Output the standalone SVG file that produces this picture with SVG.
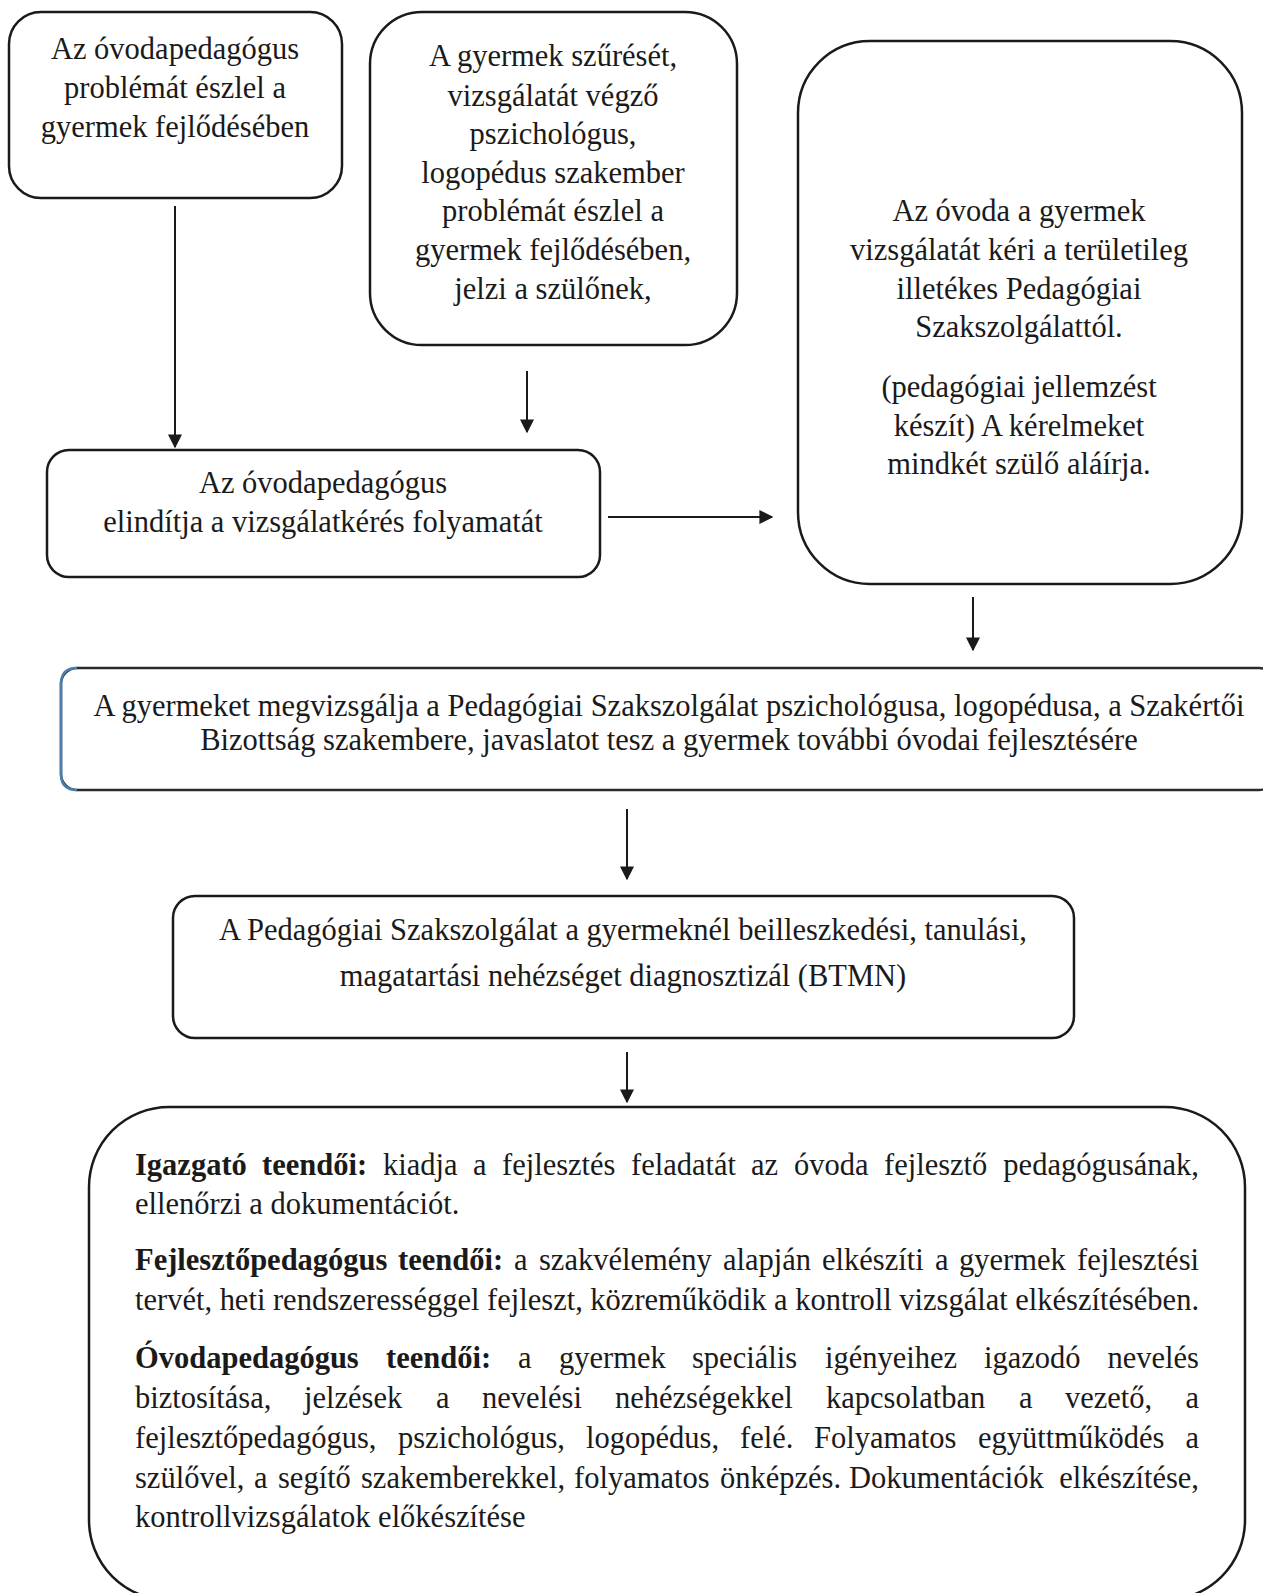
<svg xmlns="http://www.w3.org/2000/svg" width="1263" height="1593" viewBox="0 0 1263 1593">
<style>
.box{fill:#fff;stroke:#1a1a1a;stroke-width:2.5}
.t{font-family:"Liberation Serif","Times New Roman",serif;font-size:30.5px;fill:#1a1a1a}
.c{text-anchor:middle}
.b{font-weight:bold}
.e{text-anchor:end}
.conn line{stroke:#1a1a1a;stroke-width:2}
</style>
<defs>
<marker id="ah" viewBox="0 0 10 10" refX="9" refY="5" markerWidth="7" markerHeight="7" markerUnits="strokeWidth" orient="auto">
<path d="M0,0 L10,5 L0,10 z" fill="#1a1a1a"/>
</marker>
</defs>
<rect width="1263" height="1593" fill="#fff"/>

<g id="n1">
<rect class="box" x="9" y="12" width="333" height="186" rx="32"/>
<text class="t c" x="175" y="59">Az óvodapedagógus</text>
<text class="t c" x="175" y="98">problémát észlel a</text>
<text class="t c" x="175" y="137">gyermek fejlődésében</text>
</g>

<g id="n2">
<rect class="box" x="370" y="12" width="367" height="333" rx="52"/>
<text class="t c" x="553" y="66">A gyermek szűrését,</text>
<text class="t c" x="553" y="106">vizsgálatát végző</text>
<text class="t c" x="553" y="144">pszichológus,</text>
<text class="t c" x="553" y="183">logopédus szakember</text>
<text class="t c" x="553" y="221">problémát észlel a</text>
<text class="t c" x="553" y="260">gyermek fejlődésében,</text>
<text class="t c" x="553" y="299">jelzi a szülőnek,</text>
</g>

<g id="n3">
<rect class="box" x="798" y="41" width="444" height="543" rx="72"/>
<text class="t c" x="1019" y="221">Az óvoda a gyermek</text>
<text class="t c" x="1019" y="260">vizsgálatát kéri a területileg</text>
<text class="t c" x="1019" y="299">illetékes Pedagógiai</text>
<text class="t c" x="1019" y="337">Szakszolgálattól.</text>
<text class="t c" x="1019" y="397">(pedagógiai jellemzést</text>
<text class="t c" x="1019" y="436">készít) A kérelmeket</text>
<text class="t c" x="1019" y="474">mindkét szülő aláírja.</text>
</g>

<g id="n4">
<rect class="box" x="47" y="450" width="553" height="127" rx="22"/>
<text class="t c" x="323" y="493">Az óvodapedagógus</text>
<text class="t c" x="323" y="532">elindítja a vizsgálatkérés folyamatát</text>
</g>

<g id="n5">
<rect class="box" x="61" y="668" width="1214" height="122" rx="16" style="stroke:#2b2b2b"/>
<path d="M77,668 Q61,668 61,684 L61,774 Q61,790 77,790" fill="none" stroke="#4a7db0" stroke-width="2.5"/>
<text class="t c" x="669" y="716">A gyermeket megvizsgálja a Pedagógiai Szakszolgálat pszichológusa, logopédusa, a Szakértői</text>
<text class="t c" x="669" y="750">Bizottság szakembere, javaslatot tesz a gyermek további óvodai fejlesztésére</text>
</g>

<g id="n6">
<rect class="box" x="173" y="896" width="901" height="142" rx="22"/>
<text class="t c" x="623" y="940">A Pedagógiai Szakszolgálat a gyermeknél beilleszkedési, tanulási,</text>
<text class="t c" x="623" y="986">magatartási nehézséget diagnosztizál (BTMN)</text>
</g>

<g id="n7">
<rect class="box" x="89" y="1107" width="1156" height="493" rx="80"/>
<text class="t" y="1175"><tspan class="b" x="135">Igazgató</tspan><tspan class="b" x="262">teendői:</tspan><tspan x="383">kiadja</tspan><tspan x="473">a</tspan><tspan x="502">fejlesztés</tspan><tspan x="631">feladatát</tspan><tspan x="751">az</tspan><tspan x="794">óvoda</tspan><tspan x="884">fejlesztő</tspan><tspan class="e" x="1199">pedagógusának,</tspan></text>
<text class="t" x="135" y="1214">ellenőrzi a dokumentációt.</text>

<text class="t" y="1270"><tspan class="b" x="135">Fejlesztőpedagógus</tspan><tspan class="b" x="398">teendői:</tspan><tspan x="514">a</tspan><tspan x="539">szakvélemény</tspan><tspan x="723">alapján</tspan><tspan x="822">elkészíti</tspan><tspan x="935">a</tspan><tspan x="959">gyermek</tspan><tspan class="e" x="1199">fejlesztési</tspan></text>
<text class="t" x="135" y="1310" textLength="1064" lengthAdjust="spacing">tervét, heti rendszerességgel fejleszt, közreműködik a kontroll vizsgálat elkészítésében.</text>

<text class="t" y="1368"><tspan class="b" x="135">Óvodapedagógus</tspan><tspan class="b" x="386">teendői:</tspan><tspan x="518">a</tspan><tspan x="559">gyermek</tspan><tspan x="692">speciális</tspan><tspan x="825">igényeihez</tspan><tspan x="984">igazodó</tspan><tspan class="e" x="1199">nevelés</tspan></text>
<text class="t" y="1408"><tspan x="135">biztosítása,</tspan><tspan x="304">jelzések</tspan><tspan x="436">a</tspan><tspan x="482">nevelési</tspan><tspan x="615">nehézségekkel</tspan><tspan x="826">kapcsolatban</tspan><tspan x="1019">a</tspan><tspan x="1065">vezető,</tspan><tspan class="e" x="1199">a</tspan></text>
<text class="t" y="1448"><tspan x="135">fejlesztőpedagógus,</tspan><tspan x="398">pszichológus,</tspan><tspan x="586">logopédus,</tspan><tspan x="740">felé.</tspan><tspan x="814">Folyamatos</tspan><tspan x="978">együttműködés</tspan><tspan class="e" x="1199">a</tspan></text>
<text class="t" y="1488"><tspan x="135">szülővel,</tspan><tspan x="254">a</tspan><tspan x="278">segítő</tspan><tspan x="361">szakemberekkel,</tspan><tspan x="574">folyamatos</tspan><tspan x="720">önképzés.</tspan><tspan x="849">Dokumentációk</tspan><tspan class="e" x="1199">elkészítése,</tspan></text>
<text class="t" x="135" y="1527">kontrollvizsgálatok előkészítése</text>
</g>

<g id="connectors" class="conn">
<line x1="175" y1="206" x2="175" y2="447" marker-end="url(#ah)"/>
<line x1="527" y1="371" x2="527" y2="432" marker-end="url(#ah)"/>
<line x1="608" y1="517" x2="772" y2="517" marker-end="url(#ah)"/>
<line x1="973" y1="597" x2="973" y2="650" marker-end="url(#ah)"/>
<line x1="627" y1="809" x2="627" y2="879" marker-end="url(#ah)"/>
<line x1="627" y1="1052" x2="627" y2="1102" marker-end="url(#ah)"/>
</g>
</svg>
